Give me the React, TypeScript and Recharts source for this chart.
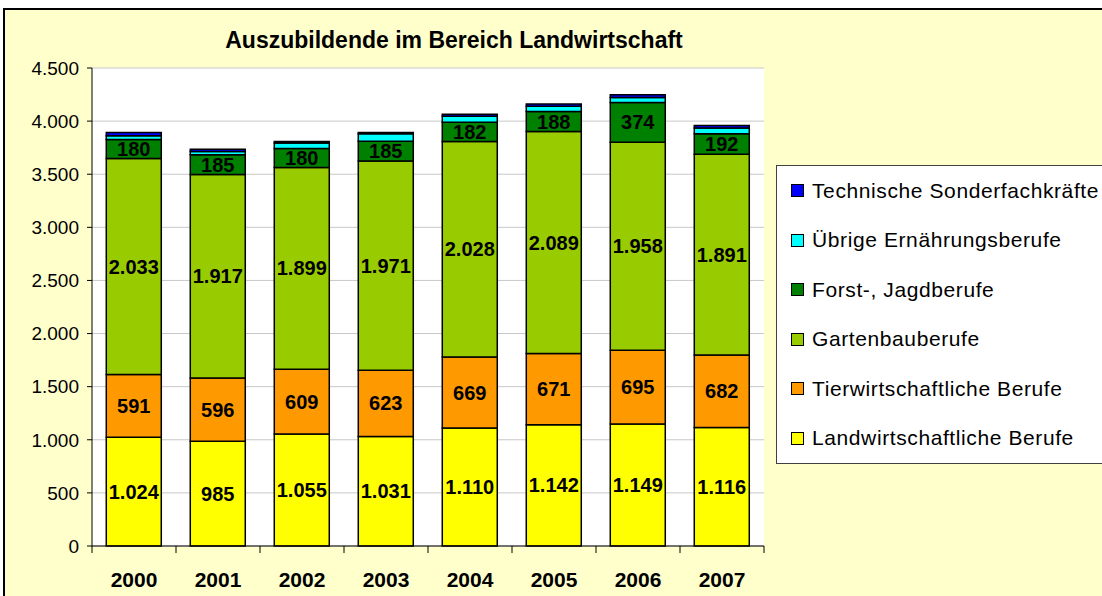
import React from "react";
import { BarChart, Bar, XAxis, YAxis, CartesianGrid, LabelList } from "recharts";

const years = ["2000", "2001", "2002", "2003", "2004", "2005", "2006", "2007"];
const landwirtschaft = [1024, 985, 1055, 1031, 1110, 1142, 1149, 1116];
const tierwirtschaft = [591, 596, 609, 623, 669, 671, 695, 682];
const gartenbau = [2033, 1917, 1899, 1971, 2028, 2089, 1958, 1891];
const forst = [180, 185, 180, 185, 182, 188, 374, 192];
const uebrige = [34, 32, 52, 70, 56, 50, 46, 55];
const technische = [30, 20, 12, 12, 20, 22, 25, 22];
const yTicks = [0, 500, 1000, 1500, 2000, 2500, 3000, 3500, 4000, 4500];

const data = years.map((year, i) => ({
  year,
  land: landwirtschaft[i],
  tier: tierwirtschaft[i],
  garten: gartenbau[i],
  forst: forst[i],
  uebrige: uebrige[i],
  tech: technische[i],
}));

const series = [
  { key: "land", name: "Landwirtschaftliche Berufe", color: "#FFFF00", label: true },
  { key: "tier", name: "Tierwirtschaftliche Berufe", color: "#FF9900", label: true },
  { key: "garten", name: "Gartenbauberufe", color: "#99CC00", label: true },
  { key: "forst", name: "Forst-, Jagdberufe", color: "#008000", label: true },
  { key: "uebrige", name: "Übrige Ernährungsberufe", color: "#00FFFF", label: false },
  { key: "tech", name: "Technische Sonderfachkräfte", color: "#0000FF", label: false },
];

const FONT = "'Liberation Sans', Arial, sans-serif";
const fmt = (v: number) => String(v).replace(/\B(?=(\d{3})+(?!\d))/g, ".");

// plot area geometry inside the svg
const W = 1106;
const H = 596;
const PLOT_LEFT = 87;
const PLOT_RIGHT = 759;
const PLOT_TOP = 58;
const PLOT_BOTTOM = 536;
const step = (PLOT_RIGHT - PLOT_LEFT) / years.length;

function YearTick(props: any) {
  const { x, y, payload, index } = props;
  return (
    <g>
      <line x1={x - step / 2} x2={x - step / 2} y1={y} y2={y + 7} stroke="#000" />
      {index === years.length - 1 && (
        <line x1={x + step / 2} x2={x + step / 2} y1={y} y2={y + 7} stroke="#000" />
      )}
      <text
        x={x}
        y={y + 41}
        textAnchor="middle"
        fontFamily={FONT}
        fontSize={21}
        fontWeight="bold"
        fill="#000"
      >
        {payload.value}
      </text>
    </g>
  );
}

function LegendBox() {
  return (
    <div
      style={{
        position: "absolute",
        left: 771,
        top: 155,
        width: 345,
        height: 297,
        background: "#fff",
        border: "1px solid #404040",
        fontFamily: FONT,
        fontSize: 21,
        letterSpacing: 0.6,
        color: "#000",
        zIndex: 2,
      }}
    >
      {[...series].reverse().map((s) => (
        <div
          key={s.key}
          style={{ height: 49.5, display: "flex", alignItems: "center", paddingLeft: 14, whiteSpace: "nowrap" }}
        >
          <span
            style={{
              width: 11,
              height: 11,
              background: s.color,
              border: "1px solid #000",
              marginRight: 8,
              display: "inline-block",
              flexShrink: 0,
            }}
          />
          <span>{s.name}</span>
        </div>
      ))}
    </div>
  );
}

export default function App() {
  return (
    <>
      <style>{"body{margin:0;overflow:hidden}"}</style>
      <div
        style={{
          position: "absolute",
          left: 3,
          top: 8,
          width: W + 4,
          height: H + 4,
          border: "2px solid #000",
          boxSizing: "border-box",
          background: "#FFFFCC",
        }}
      >
        <div
          style={{
            position: "absolute",
            left: 0,
            top: 17,
            width: 898,
            textAlign: "center",
            fontFamily: FONT,
            fontSize: 23,
            fontWeight: "bold",
            zIndex: 2,
          }}
        >
          Auszubildende im Bereich Landwirtschaft
        </div>
        <LegendBox />
        <BarChart
          width={W}
          height={H}
          data={data}
          barCategoryGap="17%"
          margin={{ top: PLOT_TOP, right: W - PLOT_RIGHT, left: PLOT_LEFT - 60, bottom: H - PLOT_BOTTOM - 40 }}
        >
          <CartesianGrid vertical={false} stroke="#C8C8C8" fill="#FFFFFF" />
          <XAxis
            dataKey="year"
            height={40}
            tickSize={0}
            tickMargin={0}
            tick={<YearTick />}
            axisLine={{ stroke: "#000" }}
            interval={0}
          />
          <YAxis
            width={60}
            domain={[0, 4500]}
            ticks={yTicks}
            tickFormatter={fmt}
            tickSize={5}
            tickMargin={8}
            axisLine={{ stroke: "#000" }}
            tickLine={{ stroke: "#000" }}
            tick={{ fill: "#000", fontFamily: FONT, fontSize: 19 }}
          />
          <YAxis
            yAxisId="frame"
            orientation="right"
            width={0}
            domain={[0, 4500]}
            tick={false}
            tickLine={false}
            axisLine={{ stroke: "#909090" }}
          />
          {series.map((s) => (
            <Bar
              key={s.key}
              dataKey={s.key}
              name={s.name}
              stackId="a"
              fill={s.color}
              stroke="#000"
              strokeWidth={1.5}
              isAnimationActive={false}
            >
              {s.label && (
                <LabelList
                  dataKey={s.key}
                  position="center"
                  formatter={(v: any) => fmt(Number(v))}
                  fill="#000"
                  fontFamily={FONT}
                  fontSize={20}
                  fontWeight="bold"
                />
              )}
            </Bar>
          ))}
        </BarChart>
      </div>
    </>
  );
}
